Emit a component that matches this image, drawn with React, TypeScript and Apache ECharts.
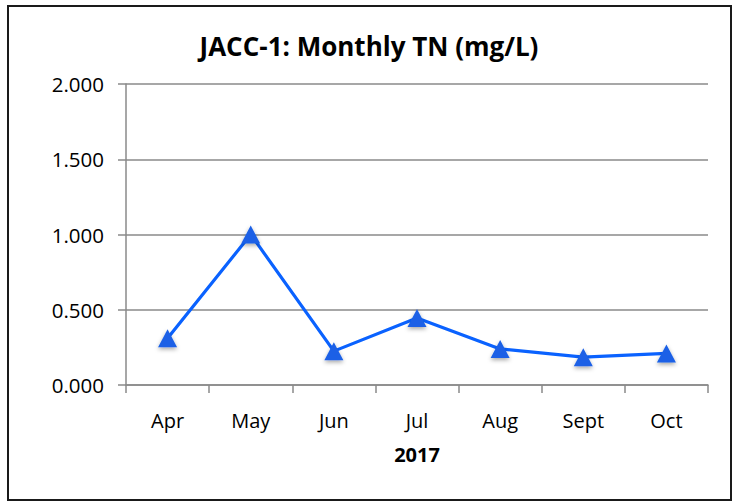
import React, { useEffect, useRef } from "react";
import * as echarts from "echarts";

const categories = ["Apr", "May", "Jun", "Jul", "Aug", "Sept", "Oct"];
const tnValues = [0.31, 1.0, 0.225, 0.445, 0.24, 0.185, 0.21];
const titleText = "JACC-1: Monthly TN (mg/L)";
const xAxisName = "2017";

export default function App() {
  const ref = useRef<HTMLDivElement>(null);
  useEffect(() => {
    if (!ref.current) return;
    const chart = echarts.init(ref.current, null, { renderer: "svg" });
    const font = "'Open Sans', Lato, sans-serif";
    chart.setOption({
      animation: false,
      backgroundColor: "#ffffff",
      title: {
        text: titleText,
        left: "center",
        top: 28,
        textStyle: { fontFamily: font, fontSize: 26, fontWeight: "bold", color: "#000" },
      },
      grid: { left: 126, right: 30, top: 84, bottom: 117 },
      xAxis: {
        type: "category",
        data: categories,
        boundaryGap: true,
        name: xAxisName,
        nameLocation: "middle",
        nameGap: 59,
        nameTextStyle: { fontFamily: font, fontSize: 20, fontWeight: "bold", color: "#000" },
        axisLine: { lineStyle: { color: "#8a8a8a", width: 1.5 } },
        axisTick: { show: true, length: 8, alignWithLabel: false, lineStyle: { color: "#8a8a8a", width: 1.5 } },
        axisLabel: { fontFamily: font, fontSize: 20, color: "#000", margin: 25 },
      },
      yAxis: {
        type: "value",
        min: 0,
        max: 2,
        interval: 0.5,
        axisLine: { show: true, lineStyle: { color: "#8a8a8a", width: 1.5 } },
        axisTick: { show: true, length: 8, lineStyle: { color: "#8a8a8a", width: 1.5 } },
        splitLine: { lineStyle: { color: "#8a8a8a", width: 1.5 } },
        axisLabel: {
          fontFamily: font,
          fontSize: 20.5,
          color: "#000",
          margin: 22,
          formatter: (v: number) => v.toFixed(3),
        },
      },
      series: [
        {
          type: "line",
          data: tnValues,
          symbol: "triangle",
          symbolSize: [19, 18],
          lineStyle: { color: "#0a62ff", width: 3.2 },
          itemStyle: {
            color: "#1a60e6",
            shadowColor: "rgba(0,0,0,0.35)",
            shadowBlur: 4,
            shadowOffsetY: 2,
          },
          z: 3,
        },
      ],
      graphic: [
        {
          type: "rect",
          shape: { x: 8, y: 6, width: 723, height: 494 },
          style: { fill: "none", stroke: "#1a1a1a", lineWidth: 2 },
          silent: true,
        },
      ],
    });
    return () => chart.dispose();
  }, []);
  return (
    <div
      ref={ref}
      style={{ position: "fixed", left: 0, top: 0, width: 738, height: 502 }}
    />
  );
}
